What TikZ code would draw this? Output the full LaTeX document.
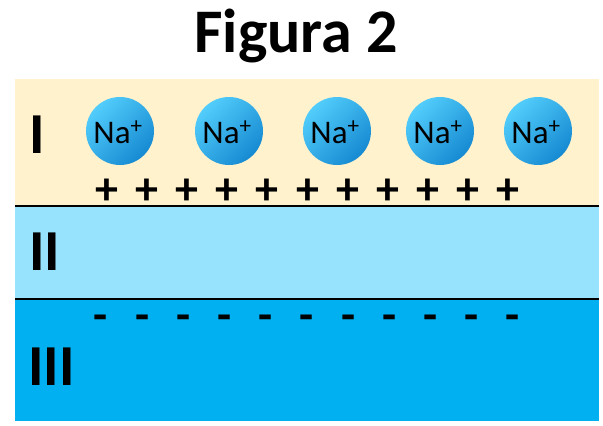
\documentclass[tikz,border=0pt]{standalone}
\usepackage{fontspec}
\setmainfont{Carlito}
\definecolor{bandI}{HTML}{FFF2CC}
\definecolor{bandII}{HTML}{97E3FE}
\definecolor{bandIII}{HTML}{00B0F0}
\definecolor{ionlight}{HTML}{52CDFB}
\definecolor{iondark}{HTML}{168AD2}
\tikzset{
  band/.style={draw=none},
  sep/.style={line width=2.5pt, black},
  ion/.style={circle, minimum size=68pt, inner sep=0pt, draw=none,
    top color=ionlight, bottom color=iondark, shading angle=45},
  ionlabel/.style={anchor=base, inner sep=0pt, font=\fontsize{33}{36}\selectfont},
  roman/.style={anchor=base west, inner sep=0pt, font=\bfseries\fontsize{58}{60}\selectfont},
  charge/.style={anchor=base, inner sep=0pt, font=\bfseries\fontsize{46}{48}\selectfont},
  titlestyle/.style={anchor=base, inner sep=0pt, font=\bfseries\fontsize{62}{70}\selectfont}
}
\begin{document}
\begin{tikzpicture}[x=1pt, y=-1pt]
\useasboundingbox (0,0) rectangle (603,426);
% bands
\fill[bandI] (15,79) rectangle (599,206);
\fill[bandII] (15,206) rectangle (599,299);
\fill[bandIII] (15,299) rectangle (599,421);
\coordinate (s1a) at (15,206);
\coordinate (s1b) at (599,206);
\coordinate (s2a) at (15,299);
\coordinate (s2b) at (599,299);
\draw[sep] (s1a) -- (s1b);
\draw[sep] (s2a) -- (s2b);
% title
\node[titlestyle] (title) at (296,52) {Figura 2};
% roman numerals
\node[roman] (r1) at (29,153) {I};
\node[roman] (r2) at (29,270) {II};
\node[roman] (r3) at (28,385) {III};
% ions
\foreach \x [count=\i] in {120,229,337,440,538} {
  \node[ion] (na\i) at (\x,131) {};
  \node[ionlabel] (nal\i) at (\x-2,143) {Na\textsuperscript{+}};
}
% plus charges
\foreach \i in {0,...,10} {
  \node[charge] (p\i) at (107+40.1*\i,204) {+};
}
% minus charges
\foreach \i in {0,...,10} {
  \node[charge] (m\i) at (101+41.2*\i,330) {-};
}
\end{tikzpicture}
\end{document}
